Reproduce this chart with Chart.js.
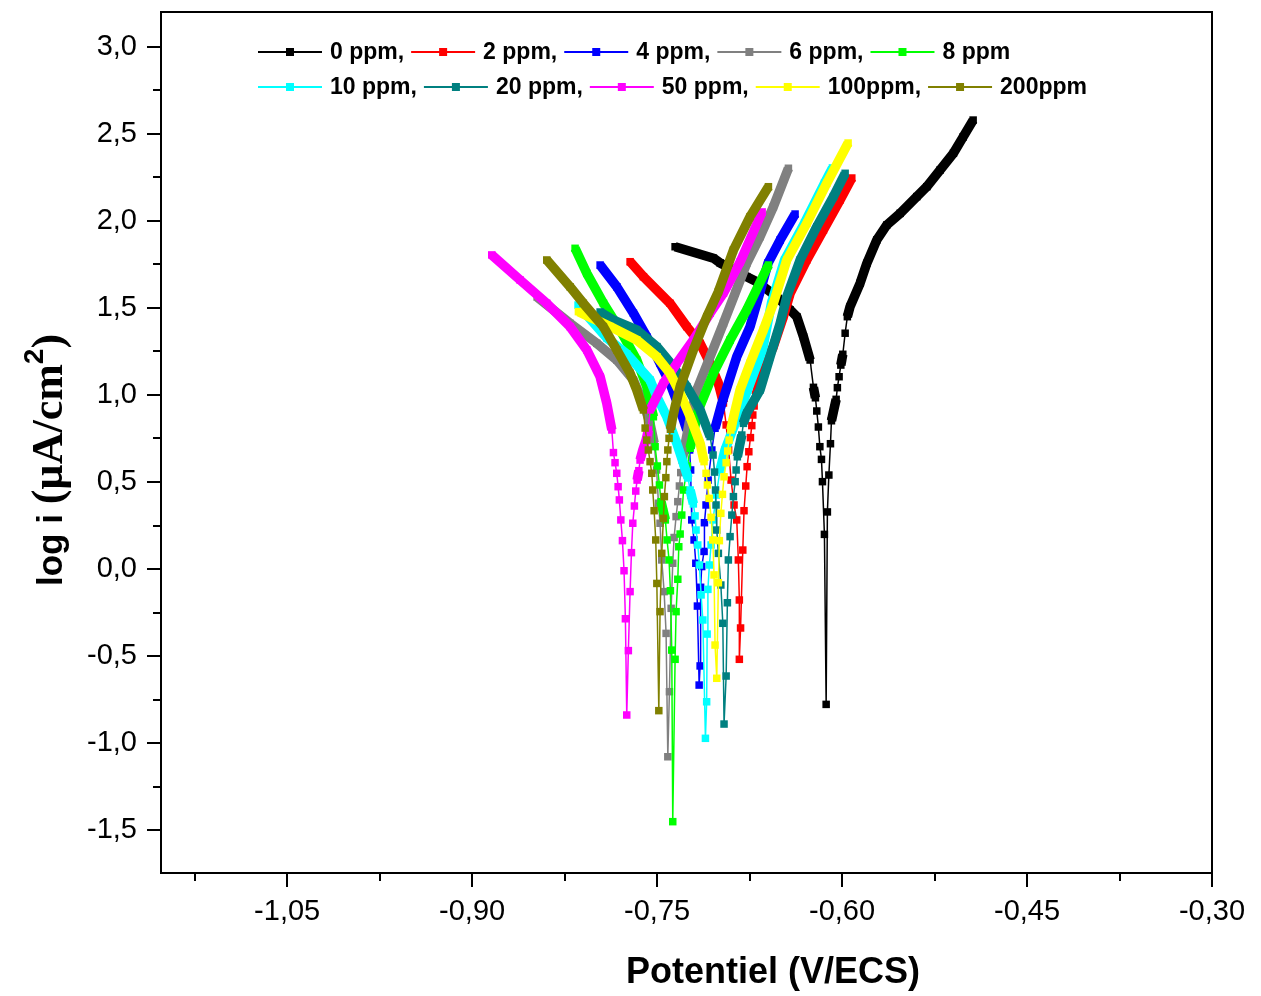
<!DOCTYPE html>
<html>
<head>
<meta charset="UTF-8">
<title>Courbes de Tafel</title>
<script src="https://cdn.jsdelivr.net/npm/chart.js@4.4.1/dist/chart.umd.min.js"></script>
<style>
  html, body { margin: 0; padding: 0; background: #fff; }
  #wrap { width: 1261px; height: 996px; }
</style>
</head>
<body>
<div id="wrap"><canvas id="tafel" width="1261" height="996"></canvas></div>
<script>
// Each series: [E (V/ECS), log i (uA/cm2)], cathodic branch -> corrosion tip -> anodic branch
var ppm0 = [[-0.7354,1.852],[-0.7043,1.786],[-0.6989,1.759],[-0.6773,1.680],[-0.6691,1.651],[-0.6529,1.565],[-0.6421,1.489],[-0.6367,1.450],[-0.6313,1.335],[-0.6259,1.201],[-0.6232,1.044],[-0.6216,0.984],[-0.6205,0.908],[-0.6192,0.816],[-0.6180,0.703],[-0.6167,0.630],[-0.6159,0.502],[-0.6143,0.199],[-0.6129,-0.778],[-0.6119,0.328],[-0.6107,0.540],[-0.6094,0.720],[-0.6086,0.852],[-0.6064,0.924],[-0.6048,0.975],[-0.6038,1.042],[-0.6024,1.105],[-0.6010,1.172],[-0.5994,1.234],[-0.5975,1.355],[-0.5957,1.450],[-0.5935,1.508],[-0.5854,1.642],[-0.5799,1.757],[-0.5718,1.891],[-0.5637,1.977],[-0.5529,2.044],[-0.5394,2.140],[-0.5313,2.197],[-0.5205,2.293],[-0.5097,2.389],[-0.5018,2.483],[-0.4937,2.580]];
var ppm2 = [[-0.7719,1.766],[-0.7611,1.680],[-0.7395,1.527],[-0.7259,1.393],[-0.7151,1.297],[-0.7070,1.182],[-0.7003,1.067],[-0.6962,0.954],[-0.6940,0.828],[-0.6920,0.684],[-0.6900,0.511],[-0.6876,0.368],[-0.6854,0.282],[-0.6841,0.052],[-0.6833,-0.178],[-0.6833,-0.519],[-0.6823,-0.339],[-0.6805,0.109],[-0.6795,0.335],[-0.6781,0.477],[-0.6770,0.588],[-0.6756,0.674],[-0.6743,0.755],[-0.6732,0.824],[-0.6724,0.885],[-0.6713,0.937],[-0.6697,1.000],[-0.6678,1.057],[-0.6640,1.144],[-0.6557,1.278],[-0.6476,1.450],[-0.6421,1.584],[-0.6286,1.776],[-0.6151,1.948],[-0.6016,2.121],[-0.5921,2.247]];
var ppm4 = [[-0.7962,1.747],[-0.7827,1.622],[-0.7692,1.470],[-0.7584,1.335],[-0.7476,1.182],[-0.7395,1.067],[-0.7313,0.914],[-0.7259,0.799],[-0.7236,0.684],[-0.7228,0.569],[-0.7224,0.425],[-0.7219,0.282],[-0.7200,0.167],[-0.7186,0.033],[-0.7173,-0.213],[-0.7159,-0.667],[-0.7151,-0.557],[-0.7147,-0.105],[-0.7138,0.014],[-0.7119,0.101],[-0.7116,0.266],[-0.7103,0.368],[-0.7086,0.511],[-0.7056,0.684],[-0.7030,0.809],[-0.6975,0.952],[-0.6854,1.220],[-0.6746,1.393],[-0.6665,1.592],[-0.6600,1.759],[-0.6502,1.891],[-0.6381,2.040]];
var ppm6 = [[-0.8473,1.563],[-0.8206,1.412],[-0.7989,1.297],[-0.7827,1.201],[-0.7692,1.086],[-0.7611,0.952],[-0.7557,0.837],[-0.7524,0.724],[-0.7504,0.569],[-0.7489,0.378],[-0.7476,0.263],[-0.7462,0.052],[-0.7443,-0.130],[-0.7427,-0.370],[-0.7413,-1.079],[-0.7400,-0.705],[-0.7386,-0.226],[-0.7373,0.033],[-0.7362,0.181],[-0.7346,0.301],[-0.7332,0.387],[-0.7319,0.477],[-0.7308,0.554],[-0.7297,0.626],[-0.7273,0.713],[-0.7232,0.868],[-0.7178,1.029],[-0.7070,1.220],[-0.6962,1.412],[-0.6867,1.585],[-0.6773,1.757],[-0.6665,1.910],[-0.6557,2.082],[-0.6435,2.303]];
var ppm8 = [[-0.8165,1.843],[-0.8070,1.699],[-0.7935,1.527],[-0.7800,1.374],[-0.7665,1.201],[-0.7584,1.048],[-0.7530,0.875],[-0.7516,0.703],[-0.7498,0.592],[-0.7481,0.483],[-0.7468,0.387],[-0.7449,0.330],[-0.7433,0.282],[-0.7419,0.167],[-0.7403,0.052],[-0.7392,-0.125],[-0.7381,-0.466],[-0.7373,-1.452],[-0.7354,-0.519],[-0.7346,-0.245],[-0.7332,-0.059],[-0.7324,0.128],[-0.7313,0.201],[-0.7300,0.310],[-0.7285,0.454],[-0.7254,0.592],[-0.7232,0.694],[-0.7206,0.780],[-0.7165,0.914],[-0.7043,1.125],[-0.6908,1.316],[-0.6773,1.489],[-0.6597,1.747]];
var ppm10 = [[-0.8141,1.517],[-0.7908,1.328],[-0.7746,1.236],[-0.7557,1.086],[-0.7502,0.990],[-0.7421,0.875],[-0.7340,0.722],[-0.7287,0.607],[-0.7249,0.523],[-0.7232,0.454],[-0.7206,0.374],[-0.7192,0.305],[-0.7184,0.224],[-0.7170,0.138],[-0.7157,0.023],[-0.7143,-0.149],[-0.7129,-0.293],[-0.7108,-0.973],[-0.7098,-0.763],[-0.7094,-0.374],[-0.7088,-0.117],[-0.7076,0.023],[-0.7062,0.138],[-0.7046,0.282],[-0.7021,0.425],[-0.6989,0.569],[-0.6949,0.684],[-0.6872,0.828],[-0.6766,1.029],[-0.6645,1.259],[-0.6572,1.529],[-0.6466,1.776],[-0.6304,1.989],[-0.6142,2.218],[-0.6078,2.305]];
var ppm20 = [[-0.7962,1.477],[-0.7854,1.431],[-0.7665,1.374],[-0.7502,1.278],[-0.7368,1.163],[-0.7259,1.048],[-0.7151,0.914],[-0.7070,0.761],[-0.7046,0.655],[-0.7034,0.557],[-0.7026,0.454],[-0.7022,0.368],[-0.7016,0.224],[-0.7003,0.090],[-0.6983,-0.092],[-0.6967,-0.312],[-0.6957,-0.891],[-0.6940,-0.615],[-0.6930,-0.194],[-0.6922,0.052],[-0.6908,0.186],[-0.6894,0.310],[-0.6881,0.416],[-0.6867,0.502],[-0.6859,0.569],[-0.6849,0.645],[-0.6833,0.703],[-0.6813,0.770],[-0.6800,0.837],[-0.6773,0.895],[-0.6665,1.029],[-0.6584,1.220],[-0.6502,1.412],[-0.6448,1.565],[-0.6340,1.776],[-0.6205,1.967],[-0.6070,2.140],[-0.5975,2.274]];
var ppm50 = [[-0.8841,1.805],[-0.8611,1.661],[-0.8395,1.527],[-0.8206,1.393],[-0.8070,1.259],[-0.7962,1.105],[-0.7908,0.952],[-0.7867,0.799],[-0.7854,0.669],[-0.7841,0.611],[-0.7827,0.550],[-0.7816,0.473],[-0.7806,0.397],[-0.7794,0.282],[-0.7781,0.163],[-0.7768,-0.010],[-0.7757,-0.286],[-0.7746,-0.839],[-0.7733,-0.469],[-0.7719,-0.130],[-0.7708,0.094],[-0.7697,0.263],[-0.7684,0.362],[-0.7673,0.448],[-0.7662,0.511],[-0.7648,0.565],[-0.7638,0.626],[-0.7616,0.684],[-0.7589,0.741],[-0.7571,0.799],[-0.7557,0.914],[-0.7449,1.067],[-0.7340,1.182],[-0.7206,1.316],[-0.7070,1.470],[-0.6962,1.585],[-0.6827,1.764],[-0.6648,2.052]];
var ppm100 = [[-0.8138,1.479],[-0.7881,1.393],[-0.7665,1.316],[-0.7502,1.220],[-0.7395,1.125],[-0.7313,1.010],[-0.7232,0.875],[-0.7151,0.722],[-0.7119,0.617],[-0.7103,0.550],[-0.7092,0.483],[-0.7078,0.406],[-0.7062,0.297],[-0.7048,0.167],[-0.7038,-0.034],[-0.7030,-0.437],[-0.7016,-0.628],[-0.7003,-0.079],[-0.6995,0.163],[-0.6983,0.320],[-0.6970,0.429],[-0.6957,0.530],[-0.6940,0.611],[-0.6927,0.678],[-0.6916,0.741],[-0.6902,0.799],[-0.6886,0.856],[-0.6827,1.029],[-0.6746,1.182],[-0.6638,1.374],[-0.6557,1.527],[-0.6448,1.776],[-0.6286,1.987],[-0.6124,2.217],[-0.5951,2.448]];
var ppm200 = [[-0.8395,1.776],[-0.8206,1.622],[-0.8098,1.527],[-0.7936,1.393],[-0.7827,1.259],[-0.7719,1.125],[-0.7665,1.029],[-0.7611,0.914],[-0.7597,0.810],[-0.7584,0.741],[-0.7571,0.684],[-0.7557,0.617],[-0.7543,0.550],[-0.7535,0.454],[-0.7524,0.335],[-0.7511,0.167],[-0.7502,-0.083],[-0.7486,-0.814],[-0.7476,-0.245],[-0.7462,0.090],[-0.7449,0.291],[-0.7441,0.416],[-0.7429,0.525],[-0.7421,0.617],[-0.7413,0.684],[-0.7403,0.751],[-0.7392,0.803],[-0.7378,0.856],[-0.7354,0.933],[-0.7313,1.048],[-0.7206,1.259],[-0.7097,1.450],[-0.7003,1.594],[-0.6881,1.833],[-0.6746,2.025],[-0.6597,2.197]];

var seriesData   = [ppm0, ppm2, ppm4, ppm6, ppm8, ppm10, ppm20, ppm50, ppm100, ppm200];
var seriesLabels = ['0 ppm,', '2 ppm,', '4 ppm,', '6 ppm,', '8 ppm', '10 ppm,', '20 ppm,', '50 ppm,', '100ppm,', '200ppm'];
var seriesColors = ['#000000', '#ff0000', '#0000ff', '#808080', '#00ff00', '#00ffff', '#008080', '#ff00ff', '#ffff00', '#808000'];

var xTicks      = [-1.05, -0.90, -0.75, -0.60, -0.45, -0.30];
var xMinorTicks = [-1.125, -0.975, -0.825, -0.675, -0.525, -0.375];
var yTicks      = [-1.5, -1.0, -0.5, 0.0, 0.5, 1.0, 1.5, 2.0, 2.5, 3.0];
var yMinorTicks = [-1.25, -0.75, -0.25, 0.25, 0.75, 1.25, 1.75, 2.25, 2.75];

var xTitle = 'Potentiel (V/ECS)';
var yTitleParts = ['log i ', '(\u00b5A/cm', '2', ')'];

var MARK = 7.5;      // square marker side, px
var BAND = 9.5;      // where markers overlap they read as a solid band

function commaFixed(v, d) {
    return Number(v).toFixed(d).replace('.', ',');
}

// markers spaced wider than their size where the curve is steep
function segWidth(c) {
    var dx = Math.abs(c.p1.x - c.p0.x);
    var dy = Math.abs(c.p1.y - c.p0.y);
    return (dy > 5.5 * dx) ? 1.5 : BAND;
}

var decorations = {
    id: 'decorations',
    afterDraw: function (chart) {
        var ctx  = chart.ctx;
        var area = chart.chartArea;
        var xs   = chart.scales.x;
        var ys   = chart.scales.y;
        var i, p;

        ctx.save();
        ctx.strokeStyle = '#000';
        ctx.lineWidth = 2;
        ctx.strokeRect(area.left, area.top, area.right - area.left, area.bottom - area.top);

        ctx.beginPath();
        for (i = 0; i < xTicks.length; i++) {
            p = Math.round(xs.getPixelForValue(xTicks[i]));
            ctx.moveTo(p, area.bottom); ctx.lineTo(p, area.bottom + 14);
        }
        for (i = 0; i < xMinorTicks.length; i++) {
            p = Math.round(xs.getPixelForValue(xMinorTicks[i]));
            ctx.moveTo(p, area.bottom); ctx.lineTo(p, area.bottom + 8);
        }
        for (i = 0; i < yTicks.length; i++) {
            p = Math.round(ys.getPixelForValue(yTicks[i]));
            ctx.moveTo(area.left, p); ctx.lineTo(area.left - 14, p);
        }
        for (i = 0; i < yMinorTicks.length; i++) {
            p = Math.round(ys.getPixelForValue(yMinorTicks[i]));
            ctx.moveTo(area.left, p); ctx.lineTo(area.left - 8, p);
        }
        ctx.stroke();

        // legend, two rows laid out like the original
        ctx.font = 'bold 23px "Liberation Sans", Arial, sans-serif';
        ctx.textBaseline = 'middle';
        ctx.textAlign = 'left';
        var rows = [[0, 1, 2, 3, 4], [5, 6, 7, 8, 9]];
        var rowY = [52, 87];
        rows.forEach(function (row, r) {
            var x = 258;
            var y = rowY[r];
            row.forEach(function (k) {
                ctx.strokeStyle = seriesColors[k];
                ctx.fillStyle = seriesColors[k];
                ctx.lineWidth = 2;
                ctx.beginPath();
                ctx.moveTo(x, y); ctx.lineTo(x + 64, y);
                ctx.stroke();
                ctx.fillRect(x + 32 - 4, y - 4, 8, 8);
                ctx.fillStyle = '#000';
                ctx.fillText(seriesLabels[k], x + 72, y + 1);
                x += 72 + ctx.measureText(seriesLabels[k]).width + 7;
            });
        });

        // axis titles
        ctx.fillStyle = '#000';
        ctx.font = 'bold 36px "Liberation Sans", Arial, sans-serif';
        ctx.textAlign = 'center';
        ctx.textBaseline = 'middle';
        ctx.fillText(xTitle, 773, 973);

        ctx.translate(62, 586);
        ctx.rotate(-Math.PI / 2);
        ctx.textAlign = 'left';
        ctx.textBaseline = 'alphabetic';
        var fonts = [
            'bold 35px "Liberation Sans", Arial, sans-serif',
            'bold 44px "Liberation Serif", "Times New Roman", serif',
            'bold 28px "Liberation Sans", Arial, sans-serif',
            'bold 44px "Liberation Serif", "Times New Roman", serif'
        ];
        var rise = [0, 0, 19, 0];
        var tx = 0;
        for (i = 0; i < yTitleParts.length; i++) {
            ctx.font = fonts[i];
            ctx.fillText(yTitleParts[i], tx, -rise[i]);
            tx += ctx.measureText(yTitleParts[i]).width;
        }
        ctx.restore();
    }
};

var datasets = seriesData.map(function (pts, k) {
    return {
        label: seriesLabels[k],
        data: pts.map(function (p) { return { x: p[0], y: p[1] }; }),
        showLine: true,
        borderColor: seriesColors[k],
        backgroundColor: seriesColors[k],
        borderWidth: 1.5,
        borderCapStyle: 'butt',
        borderJoinStyle: 'round',
        tension: 0,
        pointStyle: 'rect',
        pointRadius: MARK / Math.SQRT2,
        pointHoverRadius: MARK / Math.SQRT2,
        pointBorderWidth: 0,
        order: seriesData.length - k,
        segment: { borderWidth: segWidth }
    };
});

new Chart(document.getElementById('tafel'), {
    type: 'scatter',
    data: { datasets: datasets },
    plugins: [decorations],
    options: {
        responsive: false,
        devicePixelRatio: 1,
        animation: false,
        events: [],
        layout: { padding: { top: 12, right: 49, bottom: 0, left: 0 } },
        plugins: {
            legend: { display: false },
            tooltip: { enabled: false }
        },
        scales: {
            x: {
                type: 'linear',
                min: -1.1523,
                max: -0.30,
                grid: { display: false, drawTicks: false },
                border: { display: false },
                afterBuildTicks: function (scale) {
                    scale.ticks = xTicks.map(function (v) { return { value: v }; });
                },
                afterFit: function (scale) {
                    scale.height = 123;
                    scale.paddingLeft = 0;
                    scale.paddingRight = 0;
                },
                ticks: {
                    padding: 22,
                    maxRotation: 0,
                    color: '#000',
                    font: { family: '"Liberation Sans", Arial, sans-serif', size: 29 },
                    callback: function (v) { return commaFixed(v, 2); }
                }
            },
            y: {
                type: 'linear',
                min: -1.747,
                max: 3.201,
                grid: { display: false, drawTicks: false },
                border: { display: false },
                afterBuildTicks: function (scale) {
                    scale.ticks = yTicks.map(function (v) { return { value: v }; });
                },
                afterFit: function (scale) {
                    scale.width = 161;
                    scale.paddingTop = 0;
                    scale.paddingBottom = 0;
                },
                ticks: {
                    padding: 24,
                    color: '#000',
                    font: { family: '"Liberation Sans", Arial, sans-serif', size: 29 },
                    callback: function (v) { return commaFixed(v, 1); }
                }
            }
        }
    }
});
</script>
</body>
</html>
